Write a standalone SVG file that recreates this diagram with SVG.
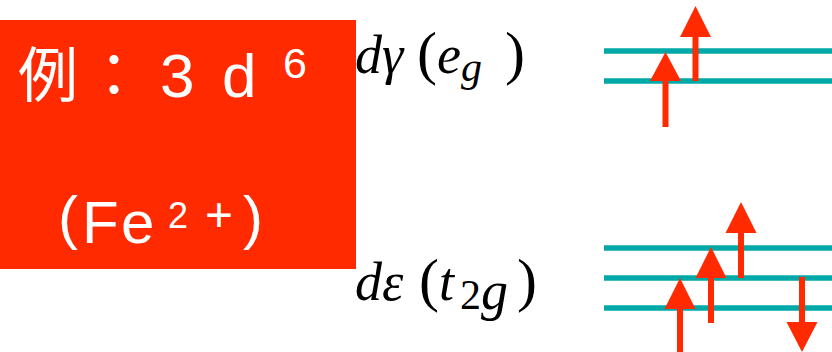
<svg xmlns="http://www.w3.org/2000/svg" width="832" height="352" viewBox="0 0 832 352">
<style>
.w{fill:#fff;font-family:"Liberation Sans","Noto Sans CJK JP",sans-serif}
.m{fill:#000;font-family:"Liberation Serif",serif}
.i{font-style:italic}
.lvl{stroke:#00A8A8;stroke-width:5.5}
.sh{stroke:#FF2A00;stroke-width:6}
.hd{fill:#FF2A00}
</style>
<g id="box">
<rect x="0" y="20" width="356" height="249" fill="#FF2A00"/>
<text class="w" font-size="60" x="18" y="97">例</text>
<text class="w" font-size="60" x="84" y="97">：</text>
<text class="w" font-size="62" x="160" y="97">3</text>
<text class="w" font-size="62" x="222" y="97">d</text>
<text class="w" font-size="43" x="283" y="78">6</text>
<text class="w" font-size="60" x="58" y="238">(</text>
<text class="w" font-size="60" x="82" y="243">F</text>
<text class="w" font-size="60" x="121" y="243">e</text>
<text class="w" font-size="36" x="168" y="228">2</text>
<text class="w" font-size="48" x="205" y="231">+</text>
<text class="w" font-size="60" x="243" y="238">)</text>
</g>
<g id="eg-label">
<text class="m" font-size="54" y="73"><tspan class="i" x="355">dγ</tspan><tspan x="417" font-size="60">(</tspan><tspan class="i" x="437">e</tspan><tspan class="i" x="461" y="81" font-size="42">g</tspan><tspan x="505" y="73" font-size="60">)</tspan></text>
</g>
<g id="t2g-label">
<text class="m" font-size="54" y="300"><tspan class="i" x="355">dε</tspan><tspan x="419" font-size="60">(</tspan><tspan class="i" x="439">t</tspan><tspan x="460" y="309" font-size="42">2</tspan><tspan class="i" x="481">g</tspan><tspan x="517" y="300" font-size="60">)</tspan></text>
</g>
<g id="eg-levels">
<line class="lvl" x1="604" y1="51" x2="832" y2="51"/>
<line class="lvl" x1="604" y1="81" x2="832" y2="81"/>
</g>
<g id="t2g-levels">
<line class="lvl" x1="604" y1="248" x2="832" y2="248"/>
<line class="lvl" x1="604" y1="278" x2="832" y2="278"/>
<line class="lvl" x1="604" y1="308" x2="832" y2="308"/>
</g>
<g id="spins">
<line class="sh" x1="665.5" y1="127" x2="665.5" y2="80"/>
<polygon class="hd" points="665.5,52 681,81 650,81"/>
<line class="sh" x1="695.5" y1="81" x2="695.5" y2="36"/>
<polygon class="hd" points="695.5,6 711,37 680,37"/>
<line class="sh" x1="680" y1="352" x2="680" y2="308"/>
<polygon class="hd" points="680,278 695.5,309 664.5,309"/>
<line class="sh" x1="711" y1="323" x2="711" y2="277"/>
<polygon class="hd" points="711,247 726.5,278 695.5,278"/>
<line class="sh" x1="741" y1="278" x2="741" y2="232"/>
<polygon class="hd" points="741,202 756.5,233 725.5,233"/>
<line class="sh" x1="802" y1="277" x2="802" y2="323"/>
<polygon class="hd" points="802,352 817.5,322 786.5,322"/>
</g>
</svg>
